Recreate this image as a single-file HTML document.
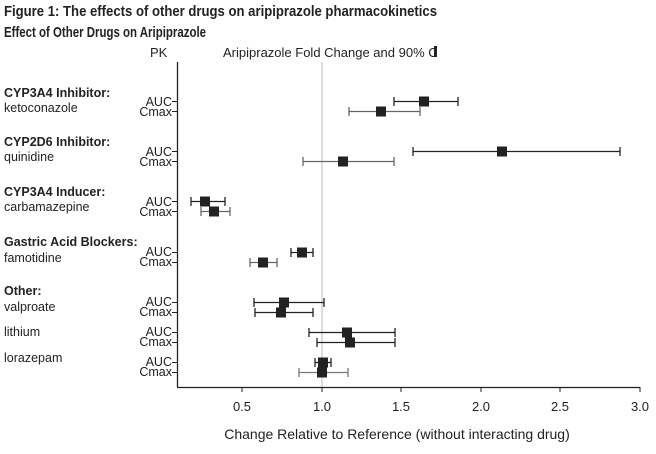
<!DOCTYPE html>
<html><head><style>
body{margin:0;background:#fff;}
svg{display:block;}
text{font-family:"Liberation Sans",sans-serif;fill:#222;}
.t{font-family:"Liberation Sans Narrow","Liberation Sans",sans-serif;font-weight:bold;font-size:15px;}
</style></head><body>
<svg width="656" height="454" viewBox="0 0 656 454">
<text class="t" x="4" y="16" textLength="433" lengthAdjust="spacingAndGlyphs">Figure 1:  The effects of other drugs on aripiprazole pharmacokinetics</text>
<text class="t" x="4" y="37" textLength="202" lengthAdjust="spacingAndGlyphs">Effect of Other Drugs on Aripiprazole</text>
<text x="150" y="57" font-size="13">PK</text>
<text x="223" y="57" font-size="13">Aripiprazole Fold Change and 90% C</text>
<rect x="434" y="46" width="3" height="11" fill="#222"/>
<line x1="322" y1="62" x2="322" y2="387" stroke="#bbb" stroke-width="1"/>
<line x1="177.5" y1="62" x2="177.5" y2="387" stroke="#222" stroke-width="1.3"/>
<line x1="177" y1="387.5" x2="640" y2="387.5" stroke="#222" stroke-width="1.3"/>
<g stroke="#222" stroke-width="1">
<line x1="242" y1="387" x2="242" y2="392"/><line x1="322" y1="387" x2="322" y2="392"/><line x1="401" y1="387" x2="401" y2="392"/><line x1="481" y1="387" x2="481" y2="392"/><line x1="560" y1="387" x2="560" y2="392"/><line x1="640" y1="387" x2="640" y2="392"/>
</g>
<g font-size="13" text-anchor="middle">
<text x="242" y="411">0.5</text><text x="322" y="411">1.0</text><text x="401" y="411">1.5</text><text x="481" y="411">2.0</text><text x="560" y="411">2.5</text><text x="640" y="411">3.0</text>
</g>
<text x="397" y="439" font-size="14" text-anchor="middle">Change Relative to Reference (without interacting drug)</text>
<g font-size="12.5">
<text x="4" y="97" font-weight="bold">CYP3A4 Inhibitor:</text><text x="4" y="112">ketoconazole</text>
<text x="4" y="146" font-weight="bold">CYP2D6 Inhibitor:</text><text x="4" y="161">quinidine</text>
<text x="4" y="196" font-weight="bold">CYP3A4 Inducer:</text><text x="4" y="211">carbamazepine</text>
<text x="4" y="246" font-weight="bold">Gastric Acid Blockers:</text><text x="4" y="262">famotidine</text>
<text x="4" y="295" font-weight="bold">Other:</text><text x="4" y="311">valproate</text>
<text x="4" y="336">lithium</text>
<text x="4" y="362">lorazepam</text>
</g>
<g font-size="12.5" text-anchor="end">
<text x="172" y="106">AUC</text><text x="172" y="116">Cmax</text>
<text x="172" y="156">AUC</text><text x="172" y="166">Cmax</text>
<text x="172" y="206">AUC</text><text x="172" y="216">Cmax</text>
<text x="172" y="256">AUC</text><text x="172" y="266">Cmax</text>
<text x="172" y="306">AUC</text><text x="172" y="316">Cmax</text>
<text x="172" y="336">AUC</text><text x="172" y="346">Cmax</text>
<text x="172" y="366">AUC</text><text x="172" y="376">Cmax</text>
</g>
<g stroke="#222" stroke-width="1">
<line x1="172" y1="101.5" x2="177" y2="101.5"/><line x1="172" y1="111.5" x2="177" y2="111.5"/>
<line x1="172" y1="151.5" x2="177" y2="151.5"/><line x1="172" y1="161.5" x2="177" y2="161.5"/>
<line x1="172" y1="201.5" x2="177" y2="201.5"/><line x1="172" y1="211.5" x2="177" y2="211.5"/>
<line x1="172" y1="252.5" x2="177" y2="252.5"/><line x1="172" y1="262.5" x2="177" y2="262.5"/>
<line x1="172" y1="302.5" x2="177" y2="302.5"/><line x1="172" y1="312.5" x2="177" y2="312.5"/>
<line x1="172" y1="332.5" x2="177" y2="332.5"/><line x1="172" y1="342.5" x2="177" y2="342.5"/>
<line x1="172" y1="362.5" x2="177" y2="362.5"/><line x1="172" y1="372.5" x2="177" y2="372.5"/>
</g>
<g stroke-width="1.3" fill="#222">
<g stroke="#222"><line x1="394" y1="101.5" x2="458" y2="101.5"/><line x1="394" y1="97" x2="394" y2="106"/><line x1="458" y1="97" x2="458" y2="106"/></g><rect x="419" y="96.5" width="10" height="10"/>
<g stroke="#666"><line x1="349" y1="111.5" x2="420" y2="111.5"/><line x1="349" y1="107" x2="349" y2="116"/><line x1="420" y1="107" x2="420" y2="116"/></g><rect x="376" y="106.5" width="10" height="10"/>
<g stroke="#222"><line x1="413" y1="151.5" x2="620" y2="151.5"/><line x1="413" y1="147" x2="413" y2="156"/><line x1="620" y1="147" x2="620" y2="156"/></g><rect x="497" y="146.5" width="10" height="10"/>
<g stroke="#666"><line x1="303" y1="161.5" x2="394" y2="161.5"/><line x1="303" y1="157" x2="303" y2="166"/><line x1="394" y1="157" x2="394" y2="166"/></g><rect x="338" y="156.5" width="10" height="10"/>
<g stroke="#222"><line x1="191" y1="201.5" x2="225" y2="201.5"/><line x1="191" y1="197" x2="191" y2="206"/><line x1="225" y1="197" x2="225" y2="206"/></g><rect x="200" y="196.5" width="10" height="10"/>
<g stroke="#666"><line x1="201" y1="211.5" x2="230" y2="211.5"/><line x1="201" y1="207" x2="201" y2="216"/><line x1="230" y1="207" x2="230" y2="216"/></g><rect x="209" y="206.5" width="10" height="10"/>
<g stroke="#222"><line x1="291" y1="252.5" x2="313" y2="252.5"/><line x1="291" y1="248" x2="291" y2="257"/><line x1="313" y1="248" x2="313" y2="257"/></g><rect x="297" y="247.5" width="10" height="10"/>
<g stroke="#666"><line x1="250" y1="262.5" x2="277" y2="262.5"/><line x1="250" y1="258" x2="250" y2="267"/><line x1="277" y1="258" x2="277" y2="267"/></g><rect x="258" y="257.5" width="10" height="10"/>
<g stroke="#222"><line x1="254" y1="302.5" x2="324" y2="302.5"/><line x1="254" y1="298" x2="254" y2="307"/><line x1="324" y1="298" x2="324" y2="307"/></g><rect x="279" y="297.5" width="10" height="10"/>
<g stroke="#222"><line x1="255" y1="312.5" x2="313" y2="312.5"/><line x1="255" y1="308" x2="255" y2="317"/><line x1="313" y1="308" x2="313" y2="317"/></g><rect x="276" y="307.5" width="10" height="10"/>
<g stroke="#222"><line x1="309" y1="332.5" x2="395" y2="332.5"/><line x1="309" y1="328" x2="309" y2="337"/><line x1="395" y1="328" x2="395" y2="337"/></g><rect x="342" y="327.5" width="10" height="10"/>
<g stroke="#222"><line x1="317" y1="342.5" x2="395" y2="342.5"/><line x1="317" y1="338" x2="317" y2="347"/><line x1="395" y1="338" x2="395" y2="347"/></g><rect x="345" y="337.5" width="10" height="10"/>
<g stroke="#222"><line x1="315" y1="362.5" x2="331" y2="362.5"/><line x1="315" y1="358" x2="315" y2="367"/><line x1="331" y1="358" x2="331" y2="367"/></g><rect x="318" y="357.5" width="10" height="10"/>
<g stroke="#777"><line x1="299" y1="372.5" x2="348" y2="372.5"/><line x1="299" y1="368" x2="299" y2="377"/><line x1="348" y1="368" x2="348" y2="377"/></g><rect x="317" y="367.5" width="10" height="10"/>
</g>
</svg>
</body></html>
